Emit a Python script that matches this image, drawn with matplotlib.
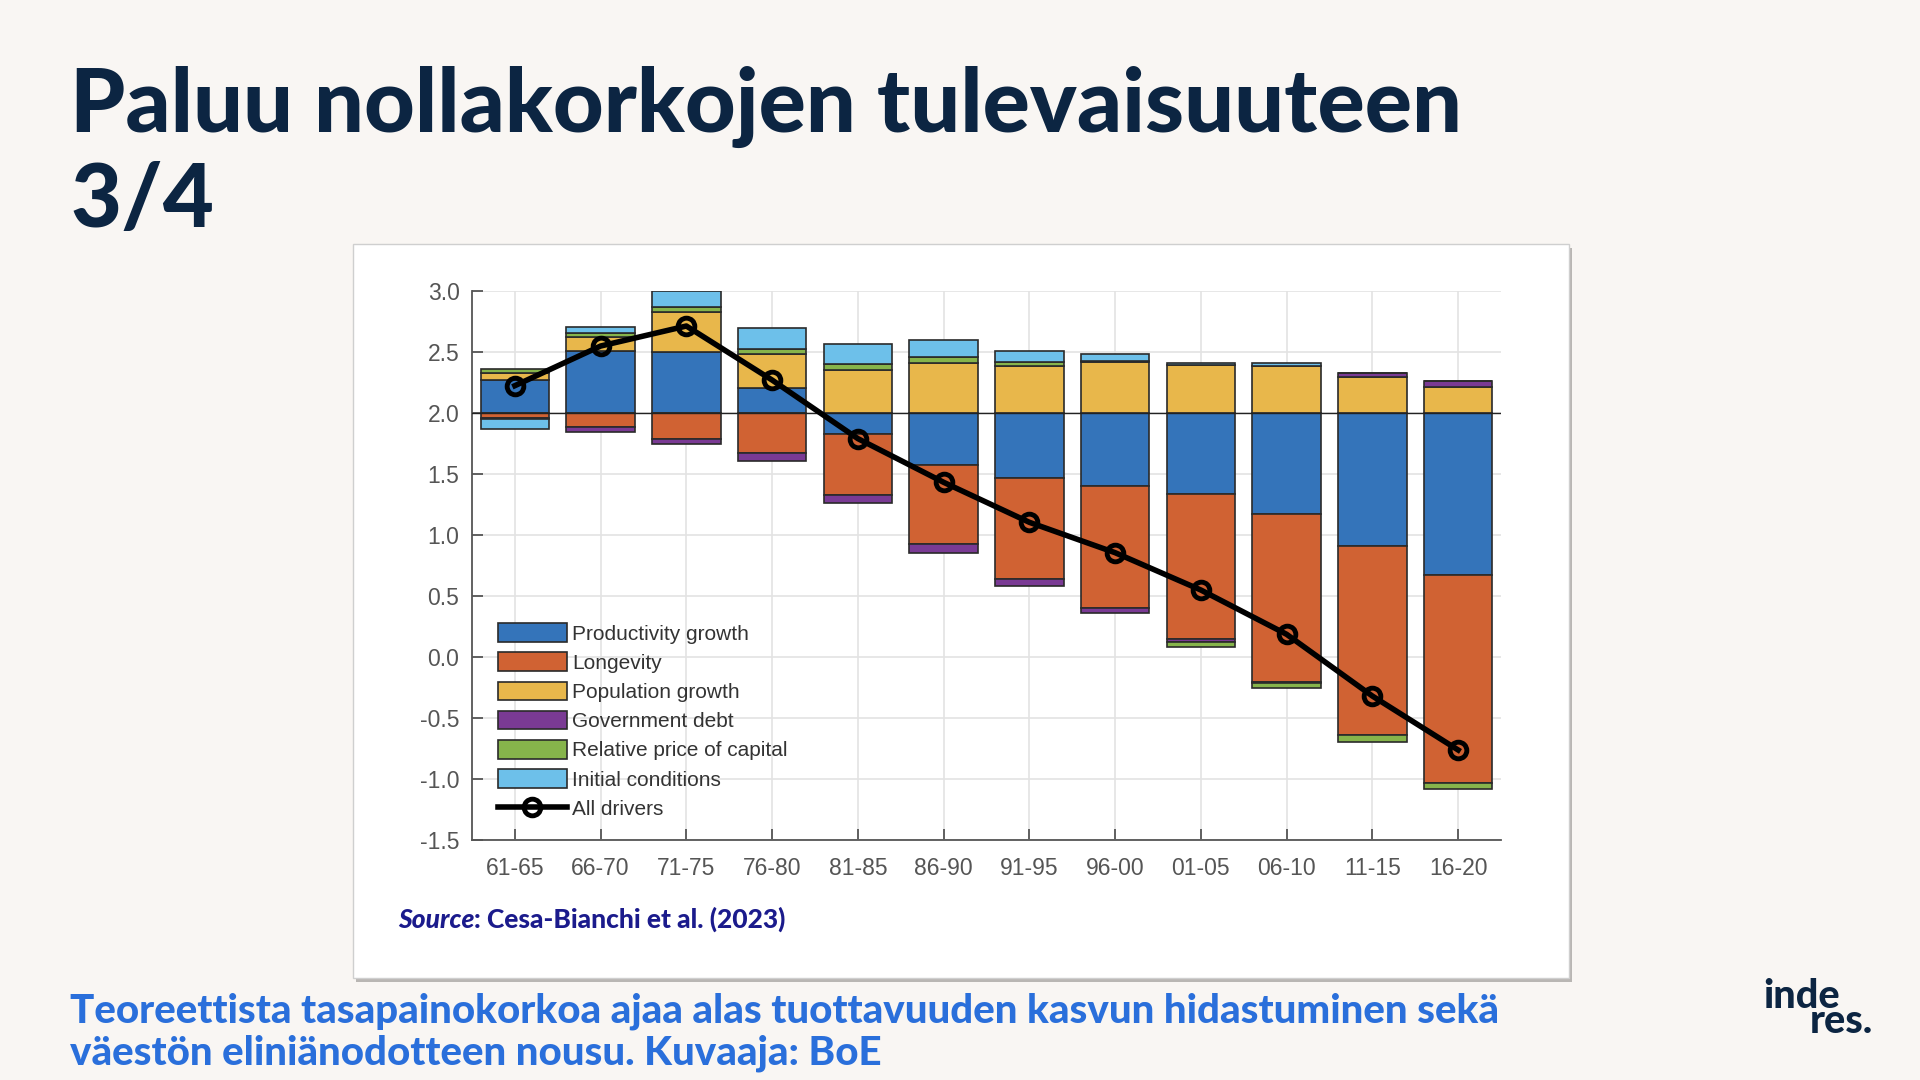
import numpy as np
import matplotlib
matplotlib.use("Agg")
import matplotlib.pyplot as plt
from matplotlib.patches import Rectangle

# contributions (pp) relative to the 2.0 baseline
periods = ['61-65', '66-70', '71-75', '76-80', '81-85', '86-90',
           '91-95', '96-00', '01-05', '06-10', '11-15', '16-20']
productivity = [0.27, 0.508, 0.50, 0.207, -0.172, -0.424,
                -0.533, -0.60, -0.664, -0.825, -1.088, -1.328]
longevity = [-0.043, -0.117, -0.21, -0.325, -0.50, -0.646,
             -0.828, -1.001, -1.191, -1.382, -1.551, -1.707]
population = [0.06, 0.118, 0.33, 0.279, 0.352, 0.41,
              0.385, 0.42, 0.39, 0.385, 0.298, 0.216]
gov_debt = [-0.01, -0.036, -0.04, -0.065, -0.068, -0.08,
            -0.054, -0.041, -0.02, -0.01, 0.027, 0.044]
rel_price = [0.028, 0.027, 0.036, 0.039, 0.048, 0.05,
             0.035, 0.005, -0.04, -0.04, -0.055, -0.05]
initial = [-0.08, 0.052, 0.134, 0.169, 0.163, 0.138,
           0.09, 0.058, 0.02, 0.027, 0.0, 0.0]
all_drivers = [2.224, 2.549, 2.713, 2.27, 1.79, 1.432,
               1.104, 0.855, 0.549, 0.186, -0.32, -0.762]

BASE = 2.0
series = [
    ('Productivity growth', productivity, '#3474ba'),
    ('Longevity', longevity, '#d06233'),
    ('Population growth', population, '#e8b74b'),
    ('Government debt', gov_debt, '#7a3a94'),
    ('Relative price of capital', rel_price, '#86b44b'),
    ('Initial conditions', initial, '#6dc0ea'),
]
# stacking order away from the baseline
stack_order = ['Productivity growth', 'Population growth', 'Longevity',
               'Government debt', 'Relative price of capital', 'Initial conditions']

BG = '#f9f6f3'
NAVY = '#0c2542'
HEAVY = 'black'

fig = plt.figure(figsize=(19.2, 10.8), dpi=100, facecolor=BG)

# white chart panel with a soft shadow
px, py, pw, ph = 353 / 1920, 1 - 978 / 1080, 1216 / 1920, 734 / 1080
fig.patches.append(Rectangle((px + 3 / 1920, py - 4 / 1080), pw, ph, transform=fig.transFigure,
                             facecolor='#b9b6b3', edgecolor='none', zorder=-3))
fig.patches.append(Rectangle((px, py), pw, ph, transform=fig.transFigure,
                             facecolor='white', edgecolor='#cfcfcf', lw=1, zorder=-2))

ax = fig.add_axes([472 / 1920, 1 - 840 / 1080, 1029 / 1920, 549 / 1080])
ax.set_facecolor('none')

x = np.arange(len(periods))
pos_bottom = np.full(len(periods), BASE)
neg_bottom = np.full(len(periods), BASE)
handles = {}
lookup = {name: (vals, col) for name, vals, col in series}
for name in stack_order:
    vals, col = lookup[name]
    v = np.asarray(vals, dtype=float)
    bottom = np.where(v >= 0, pos_bottom, neg_bottom)
    bars = ax.bar(x, v, 0.8, bottom=bottom, color=col, edgecolor='#2a2a2a',
                  linewidth=1.2, zorder=3, label=name)
    handles[name] = bars
    pos_bottom = pos_bottom + np.where(v >= 0, v, 0)
    neg_bottom = neg_bottom + np.where(v < 0, v, 0)

ax.axhline(BASE, color='#222222', lw=1.0, zorder=4)
line, = ax.plot(x, all_drivers, color='black', lw=4, marker='o', markersize=12,
                markerfacecolor='none', markeredgecolor='black', markeredgewidth=3.5,
                zorder=5, label='All drivers')

ax.set_xlim(-0.5, 11.5)
ax.set_ylim(-1.5, 3.0)
ax.set_yticks(np.arange(-1.5, 3.01, 0.5))
ax.set_yticklabels(['%.1f' % t for t in np.arange(-1.5, 3.01, 0.5)])
ax.set_xticks(x)
ax.set_xticklabels(periods)
ax.grid(True, color='#e3e3e3', lw=1.2, zorder=0)
ax.set_axisbelow(True)
for s in ['top', 'right']:
    ax.spines[s].set_visible(False)
for s in ['left', 'bottom']:
    ax.spines[s].set_color('#555555')
    ax.spines[s].set_linewidth(1.3)
ax.tick_params(axis='both', direction='in', length=8, width=1.3, color='#555555',
               labelcolor='#555555', labelsize=16.5)
ax.tick_params(axis='x', pad=12)
ax.tick_params(axis='y', pad=9)
for lab in ax.get_xticklabels() + ax.get_yticklabels():
    lab.set_fontfamily('Liberation Sans')

leg_names = [n for n, _, _ in series]
leg = ax.legend([handles[n] for n in leg_names] + [line], leg_names + ['All drivers'],
                loc='upper left', bbox_to_anchor=(0.0253, 0.395), frameon=False,
                borderpad=0, borderaxespad=0, handlelength=3.3, handleheight=1.0,
                handletextpad=0.25, labelspacing=0.42,
                prop={'family': 'Liberation Sans', 'size': 15})
for t in leg.get_texts():
    t.set_color('#333333')

# source line inside the panel
src1 = fig.text(398 / 1920, 1 - 928 / 1080, 'Source', fontsize=19, color='#1b1b8c',
                fontstyle='italic', fontweight=HEAVY, family='Lato', va='baseline')
fig.canvas.draw()
bb = src1.get_window_extent()
fig.text(bb.x1 / 1920, 1 - 928 / 1080, ': Cesa-Bianchi et al. (2023)', fontsize=19,
         color='#1b1b8c', fontweight=HEAVY, family='Lato', va='baseline')

# title
fig.text(70 / 1920, 1 - 132 / 1080, 'Paluu nollakorkojen tulevaisuuteen', fontsize=63.5,
         fontweight=HEAVY, color=NAVY, family='Lato', va='baseline')
fig.text(70 / 1920, 1 - 227 / 1080, '3/4', fontsize=63.5,
         fontweight=HEAVY, color=NAVY, family='Lato', va='baseline')

# footer caption
footer_blue = '#2a6fdb'
fig.text(70 / 1920, 1 - 1022 / 1080,
         'Teoreettista tasapainokorkoa ajaa alas tuottavuuden kasvun hidastuminen sekä',
         fontsize=29, fontweight=HEAVY, color=footer_blue, family='Lato', va='baseline')
fig.text(70 / 1920, 1 - 1065 / 1080, 'väestön eliniänodotteen nousu. Kuvaaja: BoE',
         fontsize=29, fontweight=HEAVY, color=footer_blue, family='Lato', va='baseline')

# logo
fig.text(1763 / 1920, 1 - 1008 / 1080, 'inde', fontsize=28.5, fontweight=HEAVY,
         color=NAVY, family='Lato', va='baseline')
fig.text(1810 / 1920, 1 - 1033 / 1080, 'res.', fontsize=28.5, fontweight=HEAVY,
         color=NAVY, family='Lato', va='baseline')

fig.savefig('out.png', dpi=100, facecolor=BG)
